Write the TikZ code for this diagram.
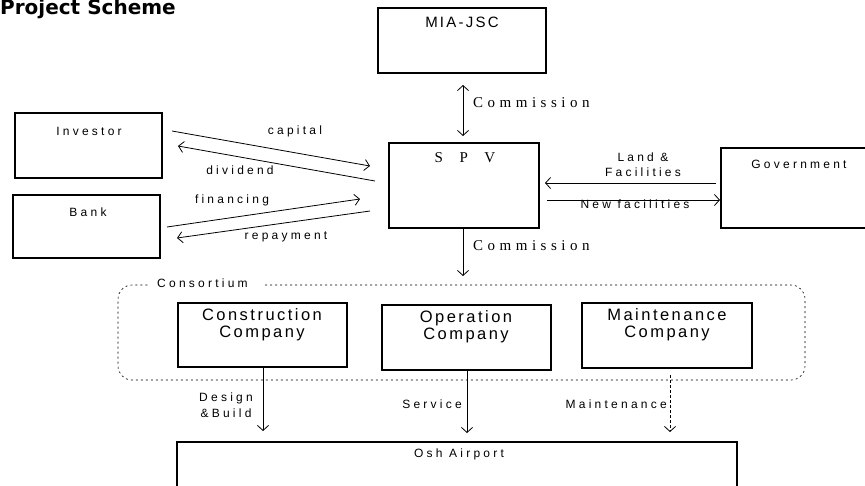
\documentclass[tikz,border=0pt]{standalone}
\usepackage{fontspec}
\setmainfont{Liberation Sans}
\newfontfamily\serifs[LetterSpace=30]{Liberation Serif}
\newfontfamily\wsans[LetterSpace=27]{Liberation Sans}
\newfontfamily\bsans[LetterSpace=15]{Liberation Sans}
\newfontfamily\verdana{DejaVu Sans}
\usetikzlibrary{arrows.meta}
\begin{document}
\begin{tikzpicture}[x=1pt,y=-1pt,
  lab/.style={font=\wsans\fontsize{12}{14}\selectfont,inner sep=0pt},
  big/.style={font=\bsans\fontsize{16.5}{17}\selectfont,align=center,inner sep=0pt},
  ser/.style={font=\serifs\fontsize{15}{16}\selectfont,inner sep=0pt},
  frame/.style={line width=1.1pt},
  arr/.style={line width=0.8pt,-{Straight Barb[length=5pt,width=11pt]}},
  darr/.style={line width=0.8pt,{Straight Barb[length=5pt,width=11pt]}-{Straight Barb[length=5pt,width=11pt]}}]
\useasboundingbox (0,0) rectangle (865,485);
\fill[white] (0,0) rectangle (865,485);
% title
\node[anchor=base west,font=\verdana\bfseries\fontsize{20}{22}\selectfont,inner sep=0pt] (title) at (0,14.6) {Project Scheme};
% boxes
\draw[frame] (378,8) rectangle (546,73);
\node[big,font=\bsans\fontsize{15}{16}\selectfont] (mia) at (462,22) {MIA-JSC};
\draw[frame] (15,113) rectangle (162,178);
\node[lab] (inv) at (89,131) {Investor};
\draw[frame] (13,195) rectangle (160,258);
\node[lab] (bank) at (88,212) {Bank};
\draw[frame] (389,143) rectangle (539,228);
\node[ser] (spv) at (465,158) {S\ \ P\ \ V};
\draw[frame] (721,148) rectangle (870,228);
\node[lab] (gov) at (799,164) {Government};
% consortium
\draw[dash pattern=on 2pt off 3pt,line width=0.6pt,rounded corners=14pt] (265,285) -- (805,285) -- (805,380) -- (118,380) -- (118,285) -- (150,285);
\node[lab,anchor=west] (cons) at (157,283) {Consortium};
\draw[frame] (178,303) rectangle (347,367);
\node[big] (cc) at (262,325) {Construction\\Company};
\draw[frame] (382,305) rectangle (551,370);
\node[big] (oc) at (466,327) {Operation\\Company};
\draw[frame] (582,303) rectangle (752,368);
\node[big] (mc) at (667,325) {Maintenance\\Company};
\draw[frame] (177,442) rectangle (737,490);
\node[lab] (osh) at (459,454) {Osh Airport};
% coordinates
\coordinate (c1) at (463,85); \coordinate (c2) at (463,136);
\coordinate (i1) at (172,131); \coordinate (i2) at (370,166);
\coordinate (d1) at (375,181); \coordinate (d2) at (178,146);
\coordinate (f1) at (167,227); \coordinate (f2) at (360,199);
\coordinate (r1) at (370,211); \coordinate (r2) at (177,238);
\coordinate (l1) at (716,183); \coordinate (l2) at (545,183);
\coordinate (n1) at (547,200); \coordinate (n2) at (720,200);
\coordinate (s1) at (463,228); \coordinate (s2) at (463,276);
\coordinate (a1) at (263,368); \coordinate (a2) at (263,431);
\coordinate (b1) at (467,370); \coordinate (b2) at (467,433);
\coordinate (m1) at (670,375); \coordinate (m2) at (670,432);
% connectors
\draw[darr] (c1) -- (c2);
\node[ser,anchor=west] (com1) at (473,103) {Commission};
\draw[arr] (i1) -- (i2);
\node[lab] (capl) at (295,131) {capital};
\draw[arr] (d1) -- (d2);
\node[lab] (divl) at (240,170) {dividend};
\draw[arr] (f1) -- (f2);
\node[lab] (finl) at (232,200) {financing};
\draw[arr] (r1) -- (r2);
\node[lab] (repl) at (286,237) {repayment};
\draw[arr] (l1) -- (l2);
\node[lab,align=center,font=\wsans\fontsize{12}{15}\selectfont] (landl) at (643,165) {Land \&\\Facilities};
\draw[arr] (n1) -- (n2);
\node[lab] (newl) at (635,204) {New facilities};
\draw[arr] (s1) -- (s2);
\node[ser,anchor=west] (com2) at (473,246) {Commission};
\draw[arr] (a1) -- (a2);
\node[lab,align=center,anchor=east,font=\wsans\fontsize{12}{16}\selectfont] (dbl) at (253,405) {Design\\\&Build};
\draw[arr] (b1) -- (b2);
\node[lab,anchor=east] (svl) at (462,404) {Service};
\draw[arr,densely dashed] (m1) -- (m2);
\node[lab,anchor=east] (mnl) at (667,404) {Maintenance};
\end{tikzpicture}
\end{document}
